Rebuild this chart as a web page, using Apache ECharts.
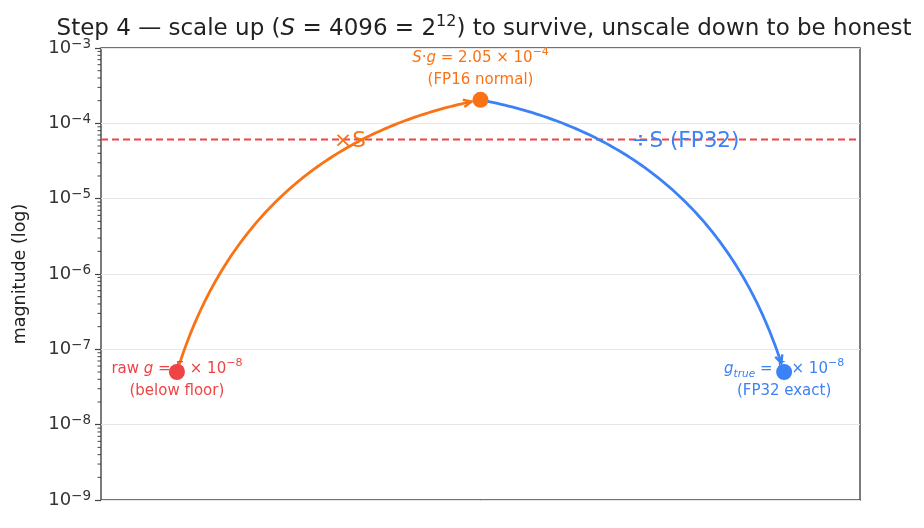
<!DOCTYPE html>
<html>
<head>
<meta charset="utf-8">
<script src="https://cdn.jsdelivr.net/npm/echarts@6/dist/echarts.min.js"></script>
<style>
  html, body { margin: 0; padding: 0; background: #fff; }
  #chart { width: 924px; height: 528px; }
</style>
</head>
<body>
<div id="chart"></div>
<script>
// data
const stepX = [0.1, 0.5, 0.9];
const stepValue = [5e-8, 2.05e-4, 5e-8];
const fp16MinNormal = 6.1e-5;
const yExponents = [-9, -8, -7, -6, -5, -4, -3];

const ORANGE = '#f97316';
const BLUE = '#3b82f6';
const RED = '#ef4444';
const FONT = 'DejaVu Sans';

// split a value into mantissa / exponent strings
const sci = v => {
  const e = Math.floor(Math.log10(v) + 1e-9);
  const m = +(v / Math.pow(10, e)).toFixed(2);
  return { m: String(m), e: '\u2212' + Math.abs(e) };
};

// minor ticks 2..9 x 10^e on the log axis
const minorTicks = [];
yExponents.slice(0, -1).forEach(e => {
  for (let k = 2; k <= 9; k++) minorTicks.push([0, k * Math.pow(10, e)]);
});

const rawS = sci(stepValue[0]);
const upS = sci(stepValue[1]);
const trueS = sci(stepValue[2]);

const labelRich = {
  t: { fontFamily: FONT, fontSize: 15, lineHeight: 22 },
  i: { fontFamily: FONT, fontSize: 15, lineHeight: 22, fontStyle: 'italic' },
  s: { fontFamily: FONT, fontSize: 11, lineHeight: 13, verticalAlign: 'top' },
  sub: { fontFamily: FONT, fontSize: 10.5, lineHeight: 12, verticalAlign: 'bottom', fontStyle: 'italic' },
  big: { fontFamily: FONT, fontSize: 21.5, lineHeight: 26 }
};

const chart = echarts.init(document.getElementById('chart'));

// curved arrow like matplotlib arc3, rad = -0.3
const renderArc = (params, api) => {
  const p0 = api.coord([api.value(0), api.value(1)]);
  const p2 = api.coord([api.value(2), api.value(3)]);
  const f = -0.3;
  const dx = p2[0] - p0[0], dy = p2[1] - p0[1];
  const c = [(p0[0] + p2[0]) / 2 - f * dy, (p0[1] + p2[1]) / 2 + f * dx];
  const B = t => [
    (1 - t) * (1 - t) * p0[0] + 2 * (1 - t) * t * c[0] + t * t * p2[0],
    (1 - t) * (1 - t) * p0[1] + 2 * (1 - t) * t * c[1] + t * t * p2[1]
  ];
  const D = t => [
    2 * (1 - t) * (c[0] - p0[0]) + 2 * t * (p2[0] - c[0]),
    2 * (1 - t) * (c[1] - p0[1]) + 2 * t * (p2[1] - c[1])
  ];
  const len = Math.hypot(dx, dy) * 1.15;
  const t0 = 6 / len, t1 = 1 - 9 / len;
  const pts = [];
  for (let k = 0; k <= 120; k++) pts.push(B(t0 + (t1 - t0) * k / 120));
  const b = B(t1);
  const color = api.visual('color');
  const d1 = D(t1);
  const n = Math.hypot(d1[0], d1[1]);
  const ux = d1[0] / n, uy = d1[1] / n;
  const L = 9, th = 0.42;
  const head = s => [
    b[0] - L * (ux * Math.cos(th) - s * uy * Math.sin(th)),
    b[1] - L * (uy * Math.cos(th) + s * ux * Math.sin(th))
  ];
  return {
    type: 'group',
    children: [
      {
        type: 'polyline',
        shape: { points: pts },
        style: { stroke: color, lineWidth: 2.8, fill: null, lineJoin: 'round' }
      },
      {
        type: 'polyline',
        shape: { points: [head(1), b, head(-1)] },
        style: { stroke: color, lineWidth: 2.4, fill: null, lineJoin: 'miter' }
      }
    ]
  };
};

chart.setOption({
  animation: false,
  title: {
    text: '{t|Step 4 \u2014 scale up (}{i|S}{t| = 4096 = 2}{s|12}{t|) to survive, unscale down to be honest}',
    left: 479, top: 9, textAlign: 'center',
    textStyle: {
      fontWeight: 'normal',
      rich: {
        t: { fontFamily: FONT, fontSize: 23, fontWeight: 'normal', color: '#222', lineHeight: 30 },
        i: { fontFamily: FONT, fontSize: 23, fontWeight: 'normal', color: '#222', lineHeight: 30, fontStyle: 'italic' },
        s: { fontFamily: FONT, fontSize: 16, fontWeight: 'normal', color: '#222', lineHeight: 16, verticalAlign: 'top' }
      }
    }
  },
  grid: { left: 101, right: 64, top: 48, bottom: 28, show: true, borderColor: '#444', borderWidth: 1.4 },
  xAxis: {
    type: 'value', min: 0, max: 1,
    axisLine: { show: false }, axisTick: { show: false }, axisLabel: { show: false }, splitLine: { show: false }
  },
  yAxis: {
    type: 'log', logBase: 10, min: 1e-9, max: 1e-3,
    name: 'magnitude (log)', nameLocation: 'middle', nameGap: 72,
    nameTextStyle: { fontFamily: FONT, fontSize: 17.5, color: '#222' },
    axisLine: { show: false },
    axisTick: { show: true, length: 6, lineStyle: { color: '#444', width: 1.2 } },
    splitLine: { show: true, lineStyle: { color: '#e6e6e6', width: 1 } },
    axisLabel: {
      margin: 10,
      formatter: v => '{b|10}{s|\u2212' + Math.abs(Math.round(Math.log10(v))) + '}',
      rich: {
        b: { fontFamily: FONT, fontSize: 18, color: '#333', lineHeight: 22 },
        s: { fontFamily: FONT, fontSize: 13.5, color: '#333', lineHeight: 14, verticalAlign: 'top' }
      }
    }
  },
  series: [
    {
      type: 'custom',
      name: 'minor ticks',
      silent: true,
      clip: false,
      encode: { x: 0, y: 1 },
      data: minorTicks,
      renderItem: (params, api) => {
        const p = api.coord([api.value(0), api.value(1)]);
        return {
          type: 'line',
          shape: { x1: p[0] - 3.5, y1: p[1], x2: p[0], y2: p[1] },
          style: { stroke: '#444', lineWidth: 1 }
        };
      },
      z: 1
    },
    {
      type: 'line',
      name: 'FP16 min normal',
      silent: true,
      symbol: 'none',
      data: [[0, fp16MinNormal], [1, fp16MinNormal]],
      lineStyle: { color: RED, type: [7, 4], width: 1.9, opacity: 1 },
      z: 2
    },
    {
      type: 'custom',
      name: 'arcs',
      silent: true,
      encode: { x: [0, 2], y: [1, 3] },
      data: [
        { value: [stepX[0], stepValue[0], stepX[1], stepValue[1]], itemStyle: { color: ORANGE } },
        { value: [stepX[1], stepValue[1], stepX[2], stepValue[2]], itemStyle: { color: BLUE } }
      ],
      renderItem: renderArc,
      z: 3
    },
    {
      type: 'scatter',
      name: 'labels',
      silent: true,
      symbolSize: 0,
      itemStyle: { opacity: 1 },
      data: [
        {
          value: [stepX[0], stepValue[0]],
          label: {
            offset: [0, 8], color: RED,
            formatter: '{t|raw }{i|g}{t| = ' + rawS.m + ' \u00d7 10}{s|' + rawS.e + '}\n{t|(below floor)}'
          }
        },
        {
          value: [stepX[1], stepValue[1]],
          label: {
            offset: [0, -31], color: ORANGE,
            formatter: '{i|S}{t|\u00b7}{i|g}{t| = ' + upS.m + ' \u00d7 10}{s|' + upS.e + '}\n{t|(FP16 normal)}'
          }
        },
        {
          value: [stepX[2], stepValue[2]],
          label: {
            offset: [0, 8], color: BLUE,
            formatter: '{i|g}{sub|true}{t| = ' + trueS.m + ' \u00d7 10}{s|' + trueS.e + '}\n{t|(FP32 exact)}'
          }
        },
        {
          value: [0.328, 5.8e-5],
          label: { color: ORANGE, formatter: '{big|\u00d7S}' }
        },
        {
          value: [0.77, 5.8e-5],
          label: { color: BLUE, formatter: '{big|\u00f7S (FP32)}' }
        }
      ],
      label: {
        show: true, position: 'inside', textBorderWidth: 0, textShadowBlur: 0,
        rich: labelRich
      },
      z: 4
    },
    {
      type: 'scatter',
      name: 'steps',
      silent: true,
      symbolSize: 16,
      data: [
        { value: [stepX[0], stepValue[0]], itemStyle: { color: RED } },
        { value: [stepX[1], stepValue[1]], itemStyle: { color: ORANGE } },
        { value: [stepX[2], stepValue[2]], itemStyle: { color: BLUE } }
      ],
      itemStyle: { opacity: 1 },
      z: 5
    }
  ]
});
</script>
</body>
</html>
